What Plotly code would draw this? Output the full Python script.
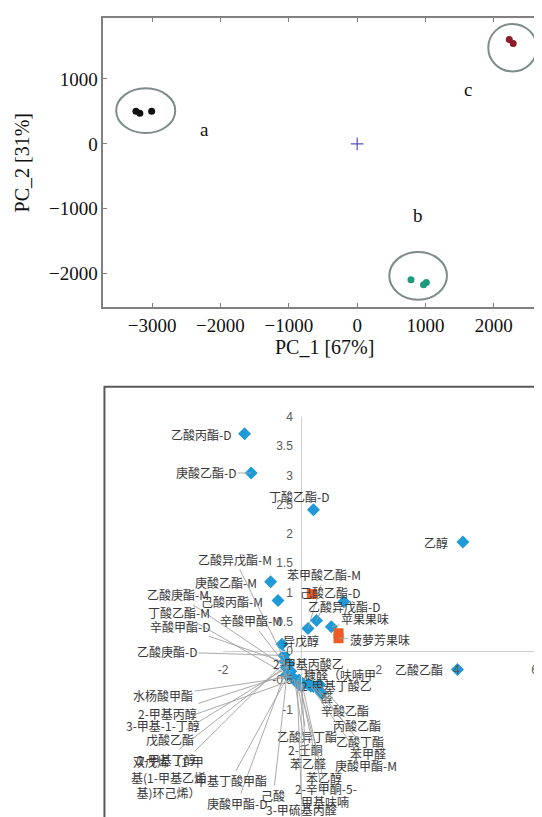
import plotly.graph_objects as go

# ---------------- Top panel: PCA score plot ----------------
grp_a_x = [-3237, -3180, -3007]
grp_a_y = [504, 473, 504]
grp_b_x = [787, 971, 1012]
grp_b_y = [-2092, -2168, -2133]
grp_c_x = [2226, 2283]
grp_c_y = [1607, 1546]
origin_x = [0]
origin_y = [0]
group_letters = ["a", "b", "c"]
letter_x = [-2230, 892, 1626]
letter_y = [229, -1099, 840]
ellipse_cx = [-3094, 892, 2273]
ellipse_cy = [511, -2031, 1481]
ellipse_rx = [432, 422, 355]
ellipse_ry = [344, 368, 366]
top_xticks = [-3000, -2000, -1000, 0, 1000, 2000]
top_yticks = [-2000, -1000, 0, 1000]

# ---------------- Bottom panel: loading biplot ----------------
names = [
    "乙酸丙酯-D", "庚酸乙酯-D", "丁酸乙酯-D", "乙醇", "乙酸乙酯",
    "庚酸乙酯-M", "己酸丙酯-M", "乙酸异戊酯-M", "乙酸庚酯-M", "丁酸乙酯-M",
    "辛酸甲酯-D", "辛酸甲酯-M", "乙酸庚酯-D", "异戊醇", "苯甲酸乙酯-M",
    "己酸乙酯-D", "乙酸异戊酯-D", "苹果果味", "2-甲基丙酸乙", "糠醛（呋喃甲",
    "2-甲基丁酸乙", "醛", "辛酸乙酯", "丙酸乙酯", "乙酸异丁酯",
    "乙酸丁酯", "苯甲醛", "2-壬酮", "苯乙醛", "庚酸甲酯-M",
    "苯乙醇", "2-辛甲酮-5-", "甲基呋喃", "3-甲硫基丙醛", "己酸",
    "庚酸甲酯-D", "甲基丁酸甲酯", "水杨酸甲酯", "2-甲基丙醇", "3-甲基-1-丁醇",
    "戊酸乙酯", "2-甲基丁醇", "双戊烯（1-甲<br>基(1-甲基乙烯<br>基)环己烯）",
]
pt_x = [
    -1.45, -1.28, 0.32, 4.16, 4.02,
    -0.78, -0.59, -0.40, -0.37, -0.36,
    -0.32, -0.27, -0.44, -0.49, 0.18,
    0.40, 1.10, 0.78, -0.10, 0.02,
    0.19, 0.53, 0.53, 0.48, -0.10,
    0.32, 0.40, 0.02, -0.17, 0.25,
    -0.05, 0.02, -0.05, -0.10, -0.36,
    -0.32, -0.27, -0.23, -0.36, -0.17,
    -0.37, -0.32, -0.40,
]
pt_y = [
    3.71, 3.04, 2.41, 1.86, -0.32,
    1.18, 0.86, -0.18, -0.29, -0.41,
    -0.22, -0.35, -0.08, 0.11, 0.38,
    0.52, 0.84, 0.41, -0.52, -0.55,
    -0.57, -0.72, -0.72, -0.58, -0.52,
    -0.61, -0.62, -0.60, -0.49, -0.60,
    -0.58, -0.55, -0.50, -0.52, -0.41,
    -0.22, -0.35, -0.44, -0.41, -0.49,
    -0.29, -0.22, -0.18,
]
lab_x = [
    -2.57, -2.44, -0.05, 3.47, 3.02,
    -1.93, -1.77, -1.70, -3.16, -3.13,
    -3.11, -1.28, -3.45, 0.00, 0.59,
    0.74, 1.10, 1.64, 0.19, 0.99,
    0.91, 0.66, 1.14, 1.43, 0.15,
    1.52, 1.73, 0.11, 0.17, 1.67,
    0.59, 0.63, 0.61, 0.02, -0.71,
    -1.64, -1.81, -3.54, -3.43, -3.54,
    -3.37, -3.45, -3.40,
]
lab_y = [
    3.70, 3.04, 2.63, 1.86, -0.32,
    1.17, 0.85, 1.56, 0.96, 0.65,
    0.42, 0.51, -0.02, 0.17, 1.30,
    0.99, 0.75, 0.56, -0.22, -0.41,
    -0.59, -0.79, -1.02, -1.28, -1.46,
    -1.55, -1.75, -1.68, -1.92, -1.96,
    -2.17, -2.36, -2.58, -2.72, -2.47,
    -2.61, -2.22, -0.77, -1.07, -1.28,
    -1.52, -1.85, -2.16,
]
leader = [
    False, True, False, False, False,
    False, False, True, True, True,
    True, True, True, False, True,
    True, False, True, True, True,
    True, False, True, True, True,
    True, True, True, True, True,
    True, True, True, True, True,
    True, True, True, True, True,
    True, True, True,
]
# sensory attributes (orange squares)
sq_x = [0.28, 0.965, 0.965]
sq_y = [0.97, 0.30, 0.215]
sq_names = ["", "", "菠萝芳果味"]
sq_lab_x = [None, None, 2.02]
sq_lab_y = [None, None, 0.20]
bot_xticks = [-2, 2, 4, 6]
bot_yticks = [-1, -0.5, 0, 0.5, 1, 1.5, 2, 2.5, 3, 3.5, 4]

W, H = 542, 817
OFF = 8  # page body margin: figure pixel = screen pixel - OFF
serif = "Liberation Serif, Times New Roman, serif"
cjk = "Noto Sans CJK SC, sans-serif"


def fx(px):
    return (px - OFF) / W


def fy(py):
    return 1 - (py - OFF) / H


fig = go.Figure()

# top panel traces
fig.add_trace(go.Scatter(x=grp_a_x, y=grp_a_y, mode="markers",
                         marker=dict(color="#111111", size=7), xaxis="x", yaxis="y"))
fig.add_trace(go.Scatter(x=grp_b_x, y=grp_b_y, mode="markers",
                         marker=dict(color="#1f9a7e", size=7), xaxis="x", yaxis="y"))
fig.add_trace(go.Scatter(x=grp_c_x, y=grp_c_y, mode="markers",
                         marker=dict(color="#8e1c26", size=7), xaxis="x", yaxis="y"))
fig.add_trace(go.Scatter(x=origin_x, y=origin_y, mode="markers",
                         marker=dict(symbol="cross-thin", size=9, color="#5050c0",
                                     line=dict(color="#5050c0", width=1.2)),
                         xaxis="x", yaxis="y"))

for cx, cy, rx, ry in zip(ellipse_cx, ellipse_cy, ellipse_rx, ellipse_ry):
    fig.add_shape(type="circle", xref="x", yref="y",
                  x0=cx - rx, x1=cx + rx, y0=cy - ry, y1=cy + ry,
                  line=dict(color="#7d8c8a", width=2))

for t, x, y in zip(group_letters, letter_x, letter_y):
    fig.add_annotation(x=x, y=y, xref="x", yref="y", text=t, showarrow=False,
                       font=dict(family=serif, size=19, color="#111111"))

# bottom panel traces
fig.add_trace(go.Scatter(x=pt_x, y=pt_y, mode="markers",
                         marker=dict(symbol="diamond", size=10, color="#1e9ad8"),
                         xaxis="x2", yaxis="y2"))
fig.add_trace(go.Scatter(x=sq_x, y=sq_y, mode="markers",
                         marker=dict(symbol="square", size=10, color="#f05a24"),
                         xaxis="x2", yaxis="y2"))

lab_font = dict(family=cjk, size=12, color="#383838")
for n, x, y, tx, ty, ld in zip(names, pt_x, pt_y, lab_x, lab_y, leader):
    fig.add_annotation(x=x, y=y, ax=tx, ay=ty, xref="x2", yref="y2",
                       axref="x2", ayref="y2", text=n, showarrow=True,
                       arrowhead=0, arrowwidth=0.9, standoff=0, startstandoff=0,
                       arrowcolor="#a0a0a0" if ld else "rgba(0,0,0,0)",
                       font=lab_font)
for n, x, y, tx, ty in zip(sq_names, sq_x, sq_y, sq_lab_x, sq_lab_y):
    if n:
        fig.add_annotation(x=x, y=y, ax=tx, ay=ty, xref="x2", yref="y2",
                           axref="x2", ayref="y2", text=n, showarrow=True,
                           arrowhead=0, arrowwidth=0.9, standoff=0,
                           arrowcolor="#a0a0a0", font=lab_font)

# frame of the bottom chart area
fig.add_shape(type="rect", xref="paper", yref="paper",
              x0=fx(101), x1=1.02, y0=-0.02, y1=fy(383),
              line=dict(color="#5a5a5a", width=2))

top_axis_common = dict(showgrid=False, zeroline=False, showline=True,
                       linecolor="#808080", linewidth=2, ticks="inside",
                       ticklen=4, tickcolor="#808080",
                       tickfont=dict(family=serif, size=19, color="#111111"))

# top panel: 69.5 px per 1000 on x, 65.5 px per 1000 on y, zero at screen y=138
x_left = -3712
x_right = x_left + (W - (100 - OFF)) / 69.5 * 1000
top_py0, top_py1, zero_py = 303, 11, 138
y_top = (zero_py - top_py1) / 65.5 * 1000
y_bot = (zero_py - top_py0) / 65.5 * 1000
bot_ymin = (649.3 - (H + OFF)) / 59.0

fig.update_layout(
    width=W, height=H, margin=dict(l=0, r=0, t=0, b=0),
    paper_bgcolor="white", plot_bgcolor="white", showlegend=False,
    xaxis=dict(domain=[fx(100), 1.0], range=[x_left, x_right], anchor="y",
               mirror="ticks", tickvals=top_xticks,
               title=dict(text="PC_1 [67%]", font=dict(family=serif, size=20, color="#111111"),
                          standoff=0),
               **top_axis_common),
    yaxis=dict(domain=[fy(top_py0), fy(top_py1)], range=[y_bot, y_top], anchor="x",
               mirror=False, tickvals=top_yticks,
               title=dict(text="PC_2 [31%]", font=dict(family=serif, size=20, color="#111111"),
                          standoff=14),
               **top_axis_common),
    xaxis2=dict(domain=[fx(221.7), fx(538.3)], range=[-2, 6], anchor="free",
                position=fy(649.3), showgrid=False, zeroline=False,
                showline=True, linecolor="#d0d0d0", linewidth=1, ticks="",
                tickvals=bot_xticks, ticktext=[str(v) for v in bot_xticks],
                ticklabelstandoff=8,
                tickfont=dict(family="Liberation Sans, Arial, sans-serif", size=12, color="#595959")),
    yaxis2=dict(domain=[0, fy(413.3)], range=[bot_ymin, 4], anchor="free",
                position=fx(301.1), showgrid=False, zeroline=False,
                showline=True, linecolor="#d0d0d0", linewidth=1, ticks="",
                tickvals=bot_yticks, ticktext=[("%g" % v) for v in bot_yticks],
                ticklabelstandoff=6,
                tickfont=dict(family="Liberation Sans, Arial, sans-serif", size=12, color="#595959")),
)

fig.write_html("out.html")
